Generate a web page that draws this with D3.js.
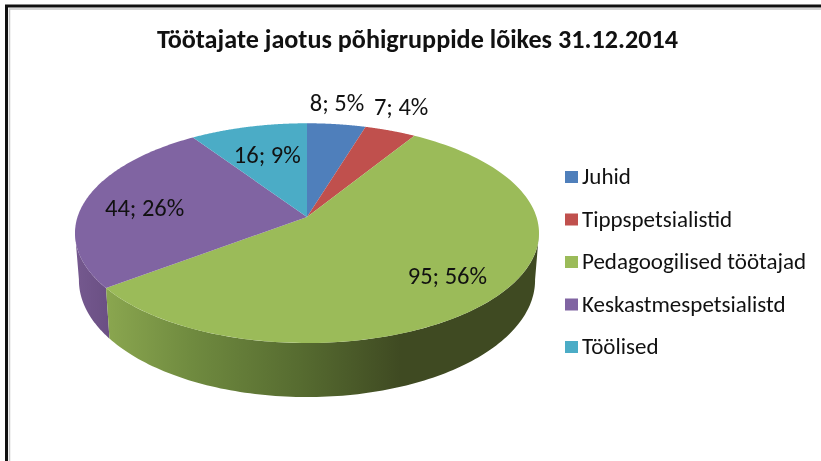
<!DOCTYPE html>
<html><head><meta charset="utf-8">
<script src="https://cdn.jsdelivr.net/npm/d3@7"></script>
<style>html,body{margin:0;padding:0;background:#fff}svg{display:block}</style>
</head><body><svg id="c" width="821" height="461"></svg>
<script>
const categories = ["Juhid","Tippspetsialistid","Pedagoogilised töötajad","Keskastmespetsialistd","Töölised"];
const values = [8,7,95,44,16];
const percents = [5,4,56,26,9];
const colors = ["#4f7fbb","#c0504d","#9bbb59","#8064a2","#4bacc6"];
const titleText = "Töötajate jaotus põhigruppide lõikes 31.12.2014";

// layout
const cx=307, cy=217, Rx=229.5, Ry=107.5, k=0.147, ellCy=233, lowCy=280, shrinkX=0.983, stretchY=1.064;
const labelRadius=[1.26,1.32,.765,.73,.648];
const labelNudge=[[-6,0],[-12,0],[0,0],[0,4],[0,0]];
const font='Carlito,Calibri,"Open Sans",sans-serif';

const svg=d3.select("#c");
const root=svg.append("g").style("filter","blur(0.5px)");
root.append("path").attr("d","M9.5 461V9H821").attr("fill","none").attr("stroke","#c8c8c8").attr("stroke-width",1.5);
root.append("path").attr("d","M6.5 461V6H821").attr("fill","none").attr("stroke","#111").attr("stroke-width",3);

const project=(a,r=1)=>{const u=Math.sin(a)*r,v=-Math.cos(a)*r,w=1-k*v;return [cx+Rx*u/w,cy+Ry*v/w];};
const lower=([x,y])=>[cx+(x-cx)*shrinkX,lowCy+(y-ellCy)*stretchY];
const arcs=d3.pie().sort(null).value(d=>d)(values);
const samples=(a,b)=>d3.range(0,121).map(i=>a+(b-a)*i/120);
const line=d3.line();

// gradients
const defs=svg.append("defs");
const gg=defs.append("linearGradient").attr("id","gSide").attr("gradientUnits","userSpaceOnUse").attr("x1",107).attr("x2",539).attr("y1",0).attr("y2",0);
[[0,"#8aa64f"],[.2,"#6f8a3f"],[.45,"#566b30"],[.68,"#3f4a22"],[1,"#3f4a22"]].forEach(s=>gg.append("stop").attr("offset",s[0]).attr("stop-color",s[1]));
const pg=defs.append("linearGradient").attr("id","pSide").attr("gradientUnits","userSpaceOnUse").attr("x1",75).attr("x2",110).attr("y1",0).attr("y2",0);
[[0,"#75598f"],[1,"#6a4f83"]].forEach(s=>pg.append("stop").attr("offset",s[0]).attr("stop-color",s[1]));

// side walls
const rightLimit=Math.PI*0.545, leftLimit=Math.PI*1.455;
const wall=(a,b,fill)=>{const top=samples(a,b).map(t=>project(t));
  const bot=top.map(lower).reverse();
  root.append("path").attr("d",line(top.concat(bot))+"Z").attr("fill",fill);};
wall(arcs[3].startAngle,leftLimit,"url(#pSide)");
wall(rightLimit,arcs[2].endAngle,"url(#gSide)");

// top faces
arcs.forEach((d,i)=>{
  const pts=[[cx,cy]].concat(samples(d.startAngle,d.endAngle).map(t=>project(t)));
  root.append("path").attr("d",line(pts)+"Z").attr("fill",colors[i]);
});

// labels
arcs.forEach((d,i)=>{
  const [x,y]=project((d.startAngle+d.endAngle)/2,labelRadius[i]);
  root.append("text").attr("x",x+labelNudge[i][0]).attr("y",y+labelNudge[i][1]+7.5)
    .attr("text-anchor","middle").attr("font-family",font).attr("font-size",24.5).attr("fill","#111")
    .text(`${values[i]}; ${percents[i]}%`);
});

// title
root.append("text").attr("x",417.5).attr("y",48).attr("text-anchor","middle").attr("font-family",font)
  .attr("font-weight",700).attr("font-size",26.5).attr("fill","#111").attr("textLength",521).attr("lengthAdjust","spacingAndGlyphs").text(titleText);

// legend
const ly=d3.scalePoint().domain(categories).range([177,347]);
categories.forEach((c,i)=>{
  root.append("rect").attr("x",565).attr("y",ly(c)-6).attr("width",13).attr("height",12).attr("fill",colors[i]);
  root.append("text").attr("x",582).attr("y",ly(c)+7).attr("font-family",font).attr("font-size",23).attr("fill","#111").text(c);
});
</script></body></html>
